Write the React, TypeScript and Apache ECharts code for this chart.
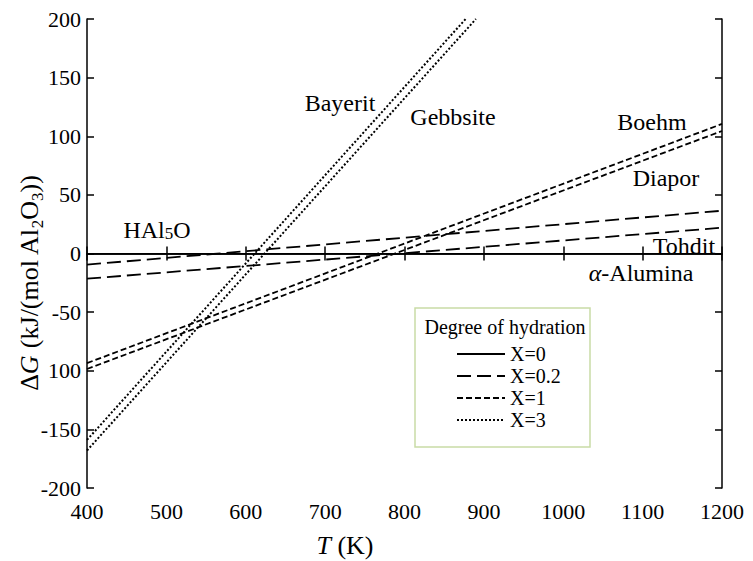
import React, { useEffect, useRef } from "react";
import * as echarts from "echarts";

// Temperature axis ticks (K) and ΔG axis ticks (kJ/mol Al2O3)
const xTicks = [400, 500, 600, 700, 800, 900, 1000, 1100, 1200];
const yTicks = [-200, -150, -100, -50, 0, 50, 100, 150, 200];
const yTickLabels = ["-200", "-150", "100", "-50", "0", "50", "100", "150", "200"];

// ΔG(T) lines: [T, ΔG]
const alphaAlumina = [[400, 0], [1200, 0]];            // X = 0
const hal5o = [[400, -9.5], [1200, 36.5]];             // X = 0.2
const tohdit = [[400, -21.5], [1200, 22]];             // X = 0.2
const boehm = [[400, -93.5], [1200, 110.5]];           // X = 1
const diapor = [[400, -98.5], [1200, 104.5]];          // X = 1
const bayerit = [[400, -159], [877, 200]];             // X = 3
const gebbsite = [[400, -168], [890, 200]];            // X = 3

const legendNames = ["X=0", "X=0.2", "X=1", "X=3"];

const FONT = "Liberation Serif";

export default function App() {
  const ref = useRef<HTMLDivElement>(null);
  useEffect(() => {
    if (!ref.current) return;
    const chart = echarts.init(ref.current, null, { renderer: "svg" });
    const mk = (name: string, data: number[][], type: any, width: number) => ({
      name,
      type: "line",
      data,
      showSymbol: false,
      symbol: "none",
      silent: true,
      lineStyle: { color: "#000", width, type },
      itemStyle: { color: "#000" },
    });
    const dash02 = [14, 6];
    const dash1 = [6, 3];
    const dot3 = [2, 2];
    const annot = (text: string, x: number, y: number, extra: any = {}) => ({
      type: "text",
      x,
      y,
      style: {
        text,
        fontFamily: FONT,
        fontSize: 24,
        fill: "#000",
        align: "center",
        verticalAlign: "middle",
        ...extra,
      },
    });
    const axisCommon = {
      type: "value",
      axisLine: { show: true, lineStyle: { color: "#000", width: 1.5 } },
      axisTick: { show: true, inside: true, length: 7, lineStyle: { color: "#000", width: 1.5 } },
      splitLine: { show: false },
    };
    chart.setOption({
      animation: false,
      backgroundColor: "#fff",
      textStyle: { fontFamily: FONT },
      grid: { left: 87, right: 31, top: 19, bottom: 73, containLabel: false },
      xAxis: [
        {
          ...axisCommon,
          position: "bottom",
          min: xTicks[0],
          max: xTicks[xTicks.length - 1],
          interval: 100,
          axisLabel: {
            color: "#000",
            fontFamily: FONT,
            fontSize: 22,
            margin: 12,
            formatter: (v: number) => String(v),
          },
        },
        {
          ...axisCommon,
          position: "top",
          min: xTicks[0],
          max: xTicks[xTicks.length - 1],
          interval: 100,
          axisLabel: { show: false },
        },
      ],
      yAxis: [
        {
          ...axisCommon,
          position: "left",
          min: yTicks[0],
          max: yTicks[yTicks.length - 1],
          interval: 50,
          axisLabel: {
            color: "#000",
            fontFamily: FONT,
            fontSize: 22,
            margin: 6,
            formatter: (v: number) => yTickLabels[yTicks.indexOf(v)] ?? String(v),
          },
        },
        {
          ...axisCommon,
          position: "right",
          min: yTicks[0],
          max: yTicks[yTicks.length - 1],
          interval: 50,
          axisLabel: { show: false },
        },
      ],
      legend: {
        data: legendNames,
        orient: "vertical",
        left: 451,
        top: 339,
        itemWidth: 48,
        itemHeight: 12,
        itemGap: 2,
        itemStyle: { opacity: 0 },
        textStyle: { color: "#000", fontFamily: FONT, fontSize: 20 },
        selectedMode: false,
      },
      series: [
        mk("X=0", alphaAlumina, "solid", 1.2),
        mk("X=0.2", hal5o, dash02, 1.8),
        mk("X=0.2", tohdit, dash02, 1.8),
        mk("X=1", boehm, dash1, 1.8),
        mk("X=1", diapor, dash1, 1.8),
        mk("X=3", bayerit, dot3, 2),
        mk("X=3", gebbsite, dot3, 2),
      ],
      graphic: [
        {
          type: "rect",
          shape: { x: 415, y: 308, width: 175, height: 139 },
          style: { fill: "none", stroke: "#c9dca6", lineWidth: 1.5 },
          z: 1,
        },
        annot("Degree of hydration", 505, 327, { fontSize: 20 }),
        annot("Bayerit", 340, 103),
        annot("Gebbsite", 453, 117),
        annot("Boehm", 652, 122),
        annot("Diapor", 666, 178),
        annot("Tohdit", 684, 246),
        {
          type: "text",
          x: 641,
          y: 273,
          style: {
            text: "{i|α}-Alumina",
            fontFamily: FONT,
            fontSize: 24,
            fill: "#000",
            align: "center",
            verticalAlign: "middle",
            rich: { i: { fontFamily: FONT, fontSize: 24, fontStyle: "italic", fill: "#000" } },
          },
        },
        {
          type: "text",
          x: 157,
          y: 230,
          style: {
            text: "HAl{s|5}O",
            fontFamily: FONT,
            fontSize: 24,
            fill: "#000",
            align: "center",
            verticalAlign: "middle",
            rich: { s: { fontFamily: FONT, fontSize: 17, fill: "#000", verticalAlign: "bottom" } },
          },
        },
        {
          type: "text",
          x: 29,
          y: 283,
          rotation: Math.PI / 2,
          style: {
            text: "Δ{i|G} (kJ/(mol Al{s|2}O{s|3}))",
            fontFamily: FONT,
            fontSize: 26,
            fill: "#000",
            align: "center",
            verticalAlign: "middle",
            rich: {
              i: { fontFamily: FONT, fontSize: 26, fontStyle: "italic", fill: "#000" },
              s: { fontFamily: FONT, fontSize: 17, fill: "#000", verticalAlign: "bottom", padding: [0, 0, -4, 0] },
            },
          },
        },
        {
          type: "text",
          x: 345,
          y: 545,
          style: {
            text: "{i|T} (K)",
            fontFamily: FONT,
            fontSize: 26,
            fill: "#000",
            align: "center",
            verticalAlign: "middle",
            rich: { i: { fontFamily: FONT, fontSize: 26, fontStyle: "italic", fill: "#000" } },
          },
        },
      ],
    });
    return () => chart.dispose();
  }, []);
  return <div ref={ref} style={{ width: 753, height: 561, position: "absolute", left: 0, top: 0 }} />;
}
